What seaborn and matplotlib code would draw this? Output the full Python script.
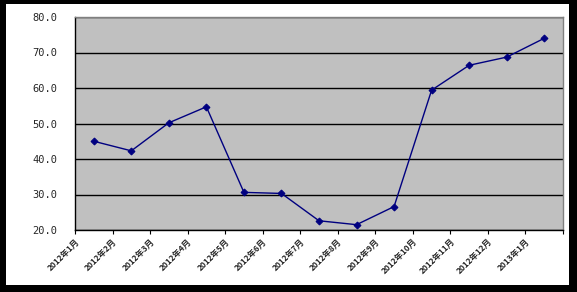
import matplotlib
matplotlib.use("Agg")
import matplotlib.pyplot as plt
import matplotlib.transforms as mtransforms
from matplotlib.patches import Rectangle
import seaborn as sns
import pandas as pd
import numpy as np

months = ["2012年1月", "2012年2月", "2012年3月", "2012年4月", "2012年5月",
          "2012年6月", "2012年7月", "2012年8月", "2012年9月", "2012年10月",
          "2012年11月", "2012年12月", "2013年1月"]
values = [45.0, 42.3, 50.2, 54.7, 30.6, 30.3, 22.6, 21.5, 26.6, 59.4, 66.4, 68.7, 74.0]
yticks = [20, 30, 40, 50, 60, 70, 80]

sns.set_style("white")
plt.rcParams['font.family'] = ['Noto Sans CJK SC', 'DejaVu Sans']

W, H = 577, 292
fig = plt.figure(figsize=(W / 100, H / 100), dpi=100, facecolor="black")
# white inner panel
fig.patches.append(Rectangle((6 / W, 1 - 285 / H), (569 - 6) / W, (285 - 4) / H,
                             transform=fig.transFigure, facecolor="white",
                             edgecolor="none", zorder=-10))
ax = fig.add_axes([75 / W, 1 - 230 / H, (563 - 75) / W, (230 - 17) / H])
ax.set_facecolor("#C0C0C0")

df = pd.DataFrame({"month": months, "value": values})
sns.lineplot(data=df, x="month", y="value", ax=ax, color="#000080",
             linewidth=1.0, marker="D", markersize=3.5,
             markeredgecolor="#000080", sort=False)

ax.set_xlim(-0.5, len(months) - 0.5)
ax.set_ylim(20, 80)
ax.set_yticks(yticks)
ax.set_yticklabels([f"{v:.1f}" for v in yticks], family="DejaVu Sans Mono",
                   fontsize=7.5)
ax.yaxis.grid(True, color="black", linewidth=1.0)
ax.set_axisbelow(True)
ax.tick_params(axis="y", length=0, pad=13)

ax.set_xticks(range(len(months)))
ax.set_xticklabels(months, fontsize=6, fontweight="bold", rotation=45,
                   ha="right", va="top", rotation_mode="anchor")
ax.set_xticks(np.arange(-0.5, len(months) + 0.5, 1.0), minor=True)
ax.tick_params(axis="x", which="major", length=0, pad=5)
ax.tick_params(axis="x", which="minor", length=3, width=0.8, color="black",
               direction="out", bottom=True)
offset = mtransforms.ScaledTranslation(-19 / 100, 0, fig.dpi_scale_trans)
for lbl in ax.get_xticklabels():
    lbl.set_transform(lbl.get_transform() + offset)

ax.set_xlabel("")
ax.set_ylabel("")
for s in ["left", "bottom"]:
    ax.spines[s].set_color("black")
    ax.spines[s].set_linewidth(1.0)
for s in ["top", "right"]:
    ax.spines[s].set_color("#808080")
    ax.spines[s].set_linewidth(1.0)

fig.savefig("out.png", dpi=100, facecolor="black")
